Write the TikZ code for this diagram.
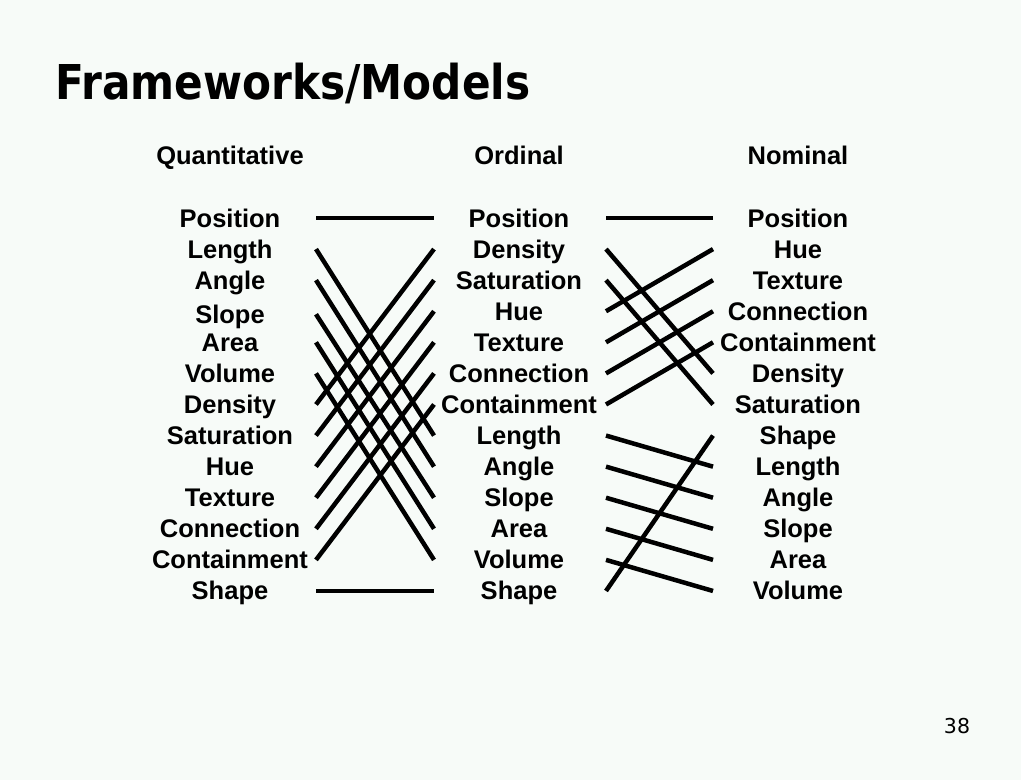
\documentclass[tikz,border=0pt]{standalone}
\usepackage{fontspec}
\usepackage{xcolor}
\usepackage{tikz}
\usetikzlibrary{positioning}
\newfontfamily\lblfont{Liberation Sans}
\newfontfamily\ttlfont[FakeStretch=0.88]{DejaVu Sans}
\newfontfamily\numfont{DejaVu Sans}
\definecolor{slidebg}{RGB}{247,251,248}

\begin{document}
\begin{tikzpicture}[x=1pt, y=-1pt,
  lbl/.style={font=\lblfont\bfseries\fontsize{25.5}{30}\selectfont,
    text height=18pt, text depth=0pt, inner sep=0pt, outer sep=0pt},
  link/.style={line width=4.5pt},
  node distance=13.08pt]
\fill[slidebg] (0,0) rectangle (1021,780);
\useasboundingbox (0,0) rectangle (1021,780);
% title and page number
\node[anchor=base west, inner sep=0pt, font=\ttlfont\bfseries\fontsize{48}{52}\selectfont] (title) at (55,99) {Frameworks/Models};
\node[anchor=base, inner sep=0pt, font=\numfont\fontsize{20.5}{24}\selectfont] (pg) at (957,733) {38};
% column heads
\node[lbl] (hq) at (230,155) {Quantitative};
\node[lbl] (ho) at (519,155) {Ordinal};
\node[lbl] (hn) at (798,155) {Nominal};
% quantitative
\node[lbl] (q1) at (230,218) {Position};
\node[lbl, below=of q1] (q2) {Length};
\node[lbl, below=of q2] (q3) {Angle};
\node[lbl, below=16.08pt of q3] (q4) {Slope};
\node[lbl, below=10.08pt of q4] (q5) {Area};
\node[lbl, below=of q5] (q6) {Volume};
\node[lbl, below=of q6] (q7) {Density};
\node[lbl, below=of q7] (q8) {Saturation};
\node[lbl, below=of q8] (q9) {Hue};
\node[lbl, below=of q9] (q10) {Texture};
\node[lbl, below=of q10] (q11) {Connection};
\node[lbl, below=of q11] (q12) {Containment};
\node[lbl, below=of q12] (q13) {Shape};
% ordinal
\node[lbl] (o1) at (519,218) {Position};
\node[lbl, below=of o1] (o2) {Density};
\node[lbl, below=of o2] (o3) {Saturation};
\node[lbl, below=of o3] (o4) {Hue};
\node[lbl, below=of o4] (o5) {Texture};
\node[lbl, below=of o5] (o6) {Connection};
\node[lbl, below=of o6] (o7) {Containment};
\node[lbl, below=of o7] (o8) {Length};
\node[lbl, below=of o8] (o9) {Angle};
\node[lbl, below=of o9] (o10) {Slope};
\node[lbl, below=of o10] (o11) {Area};
\node[lbl, below=of o11] (o12) {Volume};
\node[lbl, below=of o12] (o13) {Shape};
% nominal
\node[lbl] (n1) at (798,218) {Position};
\node[lbl, below=of n1] (n2) {Hue};
\node[lbl, below=of n2] (n3) {Texture};
\node[lbl, below=of n3] (n4) {Connection};
\node[lbl, below=of n4] (n5) {Containment};
\node[lbl, below=of n5] (n6) {Density};
\node[lbl, below=of n6] (n7) {Saturation};
\node[lbl, below=of n7] (n8) {Shape};
\node[lbl, below=of n8] (n9) {Length};
\node[lbl, below=of n9] (n10) {Angle};
\node[lbl, below=of n10] (n11) {Slope};
\node[lbl, below=of n11] (n12) {Area};
\node[lbl, below=of n12] (n13) {Volume};
% line ends
\coordinate (xa) at (316,0);
\coordinate (xb) at (434,0);
\coordinate (xc) at (606,0);
\coordinate (xd) at (713,0);
% quantitative -> ordinal
\draw[link] (q1 -| xa) -- (o1 -| xb);
\draw[link] (q2 -| xa) -- (o8 -| xb);
\draw[link] (q3 -| xa) -- (o9 -| xb);
\draw[link] (q4 -| xa) -- (o10 -| xb);
\draw[link] (q5 -| xa) -- (o11 -| xb);
\draw[link] (q6 -| xa) -- (o12 -| xb);
\draw[link] (q7 -| xa) -- (o2 -| xb);
\draw[link] (q8 -| xa) -- (o3 -| xb);
\draw[link] (q9 -| xa) -- (o4 -| xb);
\draw[link] (q10 -| xa) -- (o5 -| xb);
\draw[link] (q11 -| xa) -- (o6 -| xb);
\draw[link] (q12 -| xa) -- (o7 -| xb);
\draw[link] (q13 -| xa) -- (o13 -| xb);
% ordinal -> nominal
\draw[link] (o1 -| xc) -- (n1 -| xd);
\draw[link] (o2 -| xc) -- (n6 -| xd);
\draw[link] (o3 -| xc) -- (n7 -| xd);
\draw[link] (o4 -| xc) -- (n2 -| xd);
\draw[link] (o5 -| xc) -- (n3 -| xd);
\draw[link] (o6 -| xc) -- (n4 -| xd);
\draw[link] (o7 -| xc) -- (n5 -| xd);
\draw[link] (o8 -| xc) -- (n9 -| xd);
\draw[link] (o9 -| xc) -- (n10 -| xd);
\draw[link] (o10 -| xc) -- (n11 -| xd);
\draw[link] (o11 -| xc) -- (n12 -| xd);
\draw[link] (o12 -| xc) -- (n13 -| xd);
\draw[link] (o13 -| xc) -- (n8 -| xd);
\end{tikzpicture}
\end{document}
